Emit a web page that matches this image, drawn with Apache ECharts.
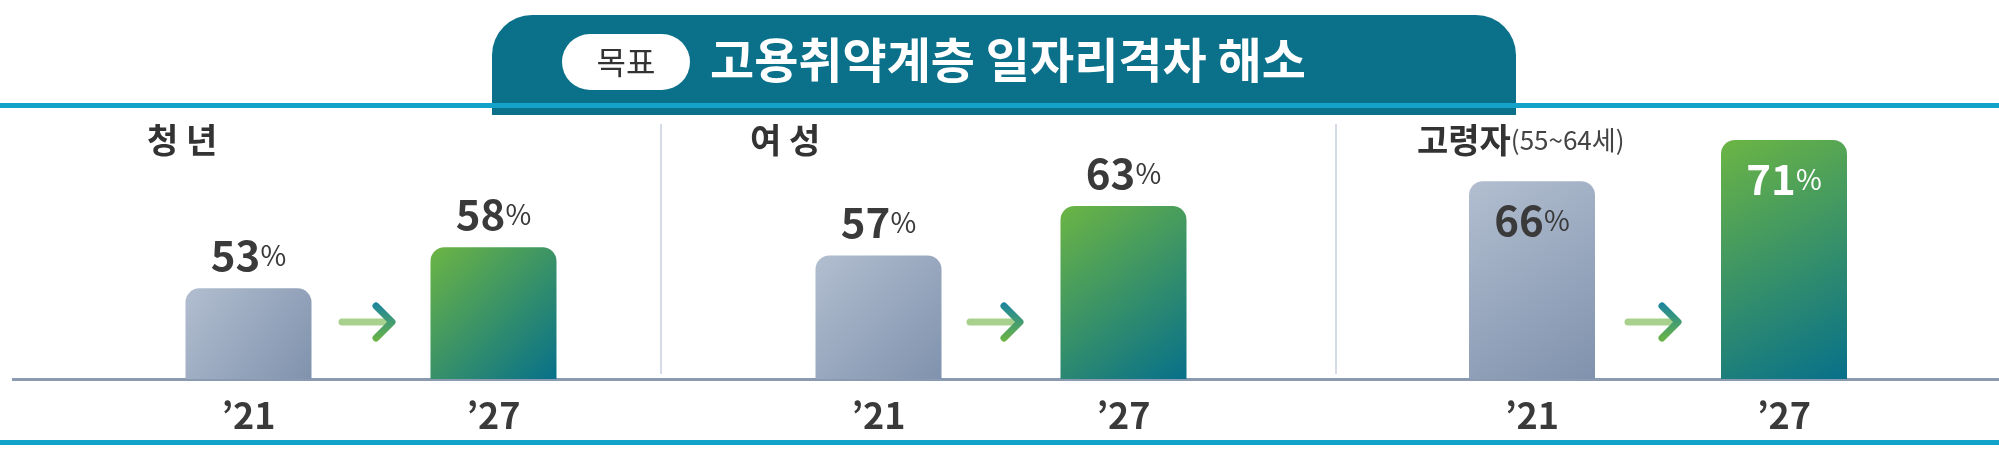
<!DOCTYPE html><html><head><meta charset="utf-8"><script src="https://cdn.jsdelivr.net/npm/echarts@6/dist/echarts.min.js"></script>
<style>body{margin:0}#c{width:1999px;height:451px}</style></head><body><div id="c"></div><script>
const groups=['청 년','여 성','고령자'];
const years=["’21","’27"];
const v21=[53,57,66];
const v27=[58,63,71];
const title='고용취약계층 일자리격차 해소';
const c=echarts.init(document.getElementById('c'));
const F='"Noto Sans CJK KR"';
const lefts=[126,756,1406],widths=[490,490,504];
const gray=new echarts.graphic.LinearGradient(0,0,1,1,[{offset:0,color:'#b2bed0'},{offset:1,color:'#8092ad'}]);
const green=new echarts.graphic.LinearGradient(0,0,1,1,[{offset:0,color:'#6cb544'},{offset:1,color:'#07708a'}]);
const grid=[],xAxis=[],yAxis=[],series=[];
groups.forEach((g,i)=>{
 grid.push({left:lefts[i],width:widths[i],top:140,bottom:72});
 xAxis.push({type:'category',gridIndex:i,data:years,axisLine:{show:false},axisTick:{show:false},axisLabel:{margin:18,fontSize:36,fontFamily:F,color:'#3a3a3a',fontWeight:'bold'}});
 yAxis.push({type:'value',gridIndex:i,min:42,max:71,show:false});
 const inside=i===2;
 series.push({type:'bar',xAxisIndex:i,yAxisIndex:i,barWidth:126,
  data:[{value:v21[i],itemStyle:{color:gray}},{value:v27[i],itemStyle:{color:green},label:inside?{color:'#fff'}:{}}],
  itemStyle:{borderRadius:[14,14,0,0]},
  label:{show:true,position:inside?'insideTop':'top',distance:inside?18:12,color:'#3a3a3a',formatter:p=>'{n|'+p.value+'}{p|%}',
   rich:{n:{fontSize:42,fontFamily:F,fontWeight:'bold'},p:{fontSize:28,fontFamily:F}}}});
});
const gr=[
 {type:'rect',shape:{x:492,y:15,width:1024,height:100,r:[40,40,0,0]},style:{fill:'#0b7089'}},
 {type:'rect',shape:{x:0,y:103,width:1999,height:5},style:{fill:'#13a3c9'}},
 {type:'rect',shape:{x:0,y:440,width:1999,height:5},style:{fill:'#13a3c9'}},
 {type:'rect',shape:{x:562,y:34,width:128,height:56,r:28},style:{fill:'#fff'}},
 {type:'text',x:626,y:62,style:{text:'목표',fontSize:32,fontFamily:F,fill:'#333',align:'center',verticalAlign:'middle'}},
 {type:'text',x:710,y:60,style:{text:title,fontSize:48,fontWeight:'bold',fontFamily:F,fill:'#fff',verticalAlign:'middle'}},
 {type:'rect',shape:{x:12,y:378,width:1987,height:3},style:{fill:'#8a9ab0'}},
 {type:'rect',shape:{x:660,y:124,width:2,height:250},style:{fill:'#d5dce7'}},
 {type:'rect',shape:{x:1335,y:124,width:2,height:250},style:{fill:'#d5dce7'}},
 {type:'text',x:147,y:140,style:{text:'청 년',fontSize:34,fontWeight:'bold',fontFamily:F,fill:'#333',verticalAlign:'middle'}},
 {type:'text',x:750,y:140,style:{text:'여 성',fontSize:34,fontWeight:'bold',fontFamily:F,fill:'#333',verticalAlign:'middle'}},
 {type:'text',x:1417,y:140,style:{text:'{a|고령자}{b|(55~64세)}',fontFamily:F,fill:'#333',verticalAlign:'middle',rich:{a:{fontSize:34,fontWeight:'bold',fontFamily:F,fill:'#333'},b:{fontSize:26,fontFamily:F,fill:'#444'}}}}
];
[342,970,1628].forEach(x=>{
 gr.push({type:'line',shape:{x1:x,y1:322,x2:x+42,y2:322},style:{stroke:'#a9d18e',lineWidth:7,lineCap:'round'}});
 gr.push({type:'polyline',shape:{points:[[x+34,306],[x+50,322],[x+34,338]]},style:{fill:null,lineWidth:7,lineCap:'round',lineJoin:'round',stroke:new echarts.graphic.LinearGradient(0,0,0,1,[{offset:0,color:'#1a84a0'},{offset:1,color:'#6cb544'}])}});
});
c.setOption({animation:false,grid,xAxis,yAxis,series,graphic:gr});
</script></body></html>
